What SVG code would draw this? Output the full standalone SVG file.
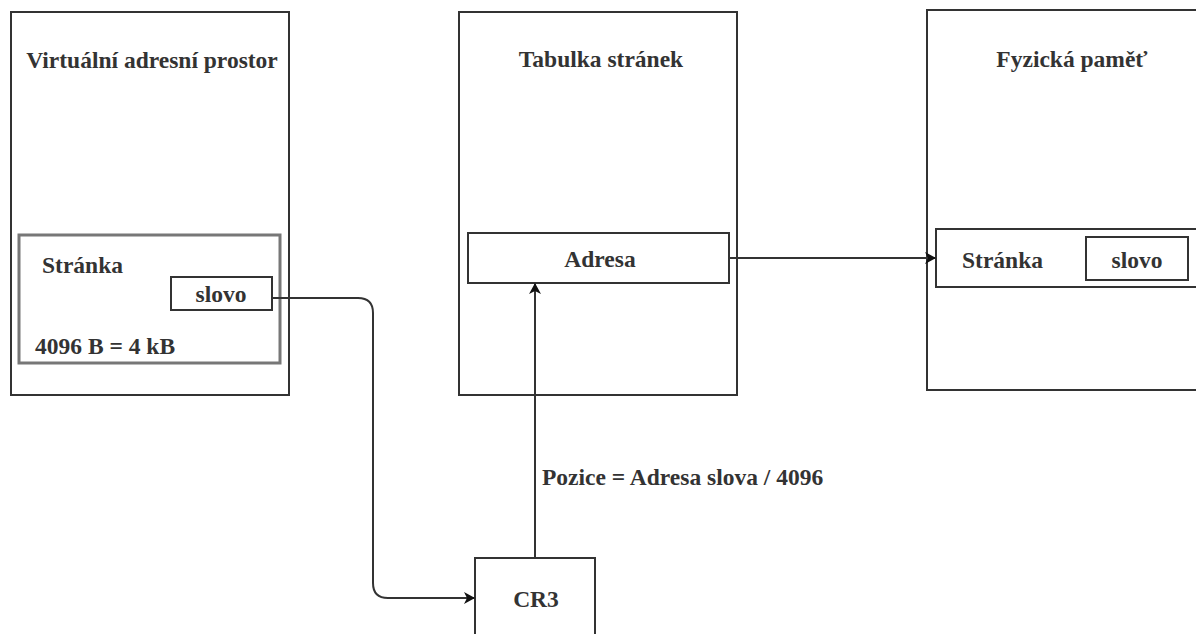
<svg xmlns="http://www.w3.org/2000/svg" width="1196" height="634" viewBox="0 0 1196 634">
<style>
.box{fill:#fff;stroke:#333;stroke-width:2}
.page{fill:none;stroke:#777;stroke-width:3}
.t{font-family:"Liberation Serif","Times New Roman",serif;font-weight:bold;font-size:23.5px;fill:#333}
.c{text-anchor:middle}
.ln{fill:none;stroke:#333;stroke-width:2}
</style>
<defs>
<marker id="ah" markerWidth="12" markerHeight="12" refX="10" refY="6" orient="auto" markerUnits="userSpaceOnUse">
<path d="M0,0 L11,6 L0,12 L3,6 Z" fill="#111"/>
</marker>
</defs>
<rect width="1196" height="634" fill="#fff"/>
<g id="virtual">
<rect class="box" x="11" y="12" width="278" height="383"/>
<text class="t c" x="152" y="68">Virtuální adresní prostor</text>
<rect class="page" x="19" y="235" width="261" height="128"/>
<text class="t" x="42" y="273">Stránka</text>
<rect class="box" x="171" y="277" width="101" height="33"/>
<text class="t c" x="221" y="302">slovo</text>
<text class="t" x="35" y="354">4096 B = 4 kB</text>
</g>
<g id="pagetable">
<rect class="box" x="459" y="12" width="278" height="383"/>
<text class="t c" x="601" y="67">Tabulka stránek</text>
<rect class="box" x="468" y="233" width="261" height="50"/>
<text class="t c" x="600" y="267">Adresa</text>
</g>
<g id="physical">
<rect class="box" x="927" y="10" width="290" height="380"/>
<text class="t c" x="1072" y="67">Fyzická paměť</text>
<rect class="box" x="936" y="229" width="270" height="58"/>
<text class="t" x="962" y="268">Stránka</text>
<rect class="box" x="1086" y="237" width="102" height="43"/>
<text class="t c" x="1137" y="268">slovo</text>
</g>
<g id="cr3">
<rect class="box" x="475" y="558" width="120" height="100"/>
<text class="t c" x="536" y="607">CR3</text>
</g>
<g id="connectors">
<path class="ln" d="M272,298 H358 Q373,298 373,313 V583 Q373,598 388,598 H474" marker-end="url(#ah)"/>
<path class="ln" d="M535,558 V284" marker-end="url(#ah)"/>
<path class="ln" d="M729,258 H935" marker-end="url(#ah)"/>
<text class="t" x="542" y="485">Pozice = Adresa slova / 4096</text>
</g>
</svg>
